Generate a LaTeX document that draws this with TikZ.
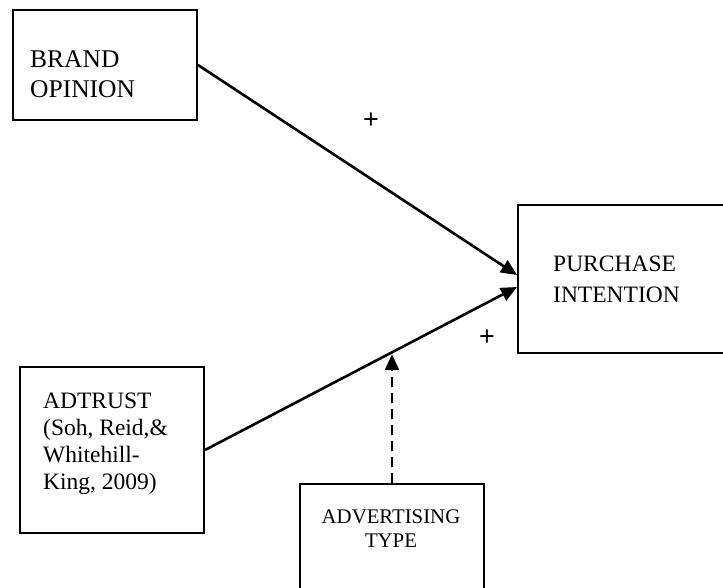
\documentclass[tikz,border=0pt]{standalone}
\usepackage{fontspec}
\setmainfont{Liberation Serif}
\newfontfamily\plusfont{Liberation Sans}
\usetikzlibrary{arrows.meta,calc}
\begin{document}
\begin{tikzpicture}[x=1pt,y=-1pt,
  box/.style={draw=black,line width=2pt,rectangle,inner sep=0pt,anchor=north west},
  txt/.style={inner sep=0pt,anchor=base west},
  ctxt/.style={inner sep=0pt,anchor=base},
  tip/.style={-{Triangle[length=16pt,width=14pt]}},
  conn/.style={line width=2.6pt,tip},
  plussign/.style={inner sep=0pt,font=\plusfont\fontsize{27}{27}\selectfont}]
\useasboundingbox (0,0) rectangle (723,588);
% boxes
\node[box,minimum width=184pt,minimum height=110pt] (brand) at (12,9) {};
\node[box,minimum width=210pt,minimum height=148pt] (pur) at (517,204) {};
\node[box,minimum width=184pt,minimum height=166pt] (adt) at (19,366) {};
\node[box,minimum width=184pt,minimum height=120pt] (adv) at (299,483) {};
% texts
\begin{scope}[font=\fontsize{25.5}{30}\selectfont]
\node[txt] (b1) at (30,68) {BRAND};
\node[txt] (b2) at (30,98) {OPINION};
\end{scope}
\begin{scope}[font=\fontsize{23.5}{30}\selectfont]
\node[txt] (p1t) at (553,271) {PURCHASE};
\node[txt] (p2t) at (553,302) {INTENTION};
\node[txt] (a1) at (43,408) {ADTRUST};
\node[txt] (a2) at (43,435) {(Soh, Reid,\&};
\node[txt] (a3) at (43,462) {Whitehill-};
\node[txt] (a4) at (43,489) {King, 2009)};
\end{scope}
\begin{scope}[font=\fontsize{20.8}{24}\selectfont]
\node[ctxt] (v1) at (391,523) {ADVERTISING};
\node[ctxt] (v2) at (391,547) {TYPE};
\end{scope}
\node[plussign] (plus1) at (371,121) {+};
\node[plussign] (plus2) at (487,338) {+};
% connectors
\coordinate (pin1) at (517,275);
\coordinate (pin2) at (517,287);
\draw[conn] (brand.east) -- (pin1);
\draw[conn] (adt.east) -- (pin2) coordinate[pos=0.6] (mid);
\draw[line width=2.6pt,dash pattern=on 10pt off 6pt,tip] (adv.north) -- ($(adv.north |- mid)+(0,2)$);
\end{tikzpicture}
\end{document}
